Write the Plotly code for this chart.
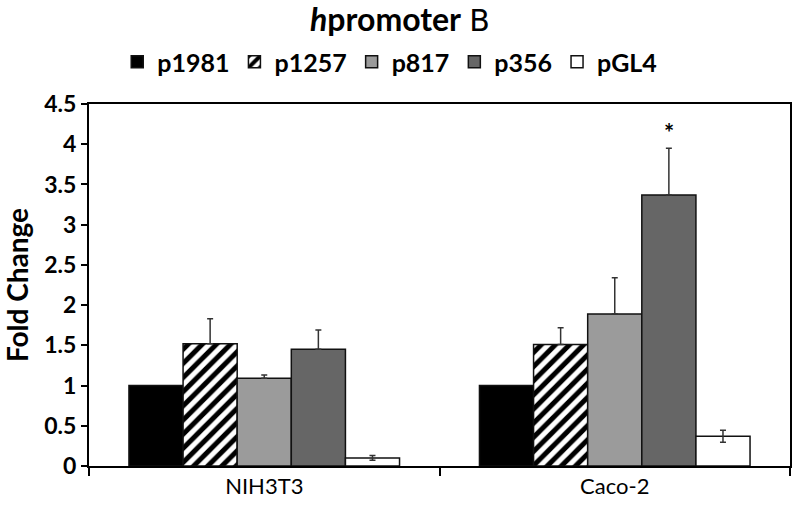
import plotly.graph_objects as go

categories = ["NIH3T3", "Caco-2"]
series_names = ["p1981", "p1257", "p817", "p356", "pGL4"]
values = {
    "p1981": [1.0, 1.0],
    "p1257": [1.52, 1.51],
    "p817": [1.09, 1.89],
    "p356": [1.45, 3.37],
    "pGL4": [0.10, 0.37],
}
err_plus = {
    "p1981": [0, 0],
    "p1257": [0.31, 0.21],
    "p817": [0.04, 0.45],
    "p356": [0.24, 0.58],
    "pGL4": [0.03, 0.075],
}
err_minus = {
    "p1981": [0, 0],
    "p1257": [0, 0],
    "p817": [0, 0],
    "p356": [0, 0],
    "pGL4": [0.03, 0.075],
}
y_ticks = [0, 0.5, 1, 1.5, 2, 2.5, 3, 3.5, 4, 4.5]
y_tick_text = ["0", "0.5", "1", "1.5", "2", "2.5", "3", "3.5", "4", "4.5"]
star_value = 4.14

colors = {
    "p1981": "#000000",
    "p1257": "#ffffff",
    "p817": "#9b9b9b",
    "p356": "#666666",
    "pGL4": "#ffffff",
}

FONT = "Lato"

fig = go.Figure()
for name in series_names:
    marker = dict(color=colors[name], line=dict(color="#111111", width=1.5))
    if name == "p1257":
        marker["pattern"] = dict(shape="/", fgcolor="#000000", bgcolor="#ffffff",
                                 fgopacity=1, size=10, solidity=0.5, fillmode="replace")
    fig.add_trace(go.Bar(
        name=name,
        x=categories,
        y=values[name],
        marker=marker,
        error_y=dict(type="data", symmetric=False,
                     array=err_plus[name], arrayminus=err_minus[name],
                     color="#333333", thickness=1.5, width=3,
                     visible=any(v > 0 for v in err_plus[name])),
    ))

fig.add_annotation(x="Caco-2", y=star_value, xref="x", yref="y",
                   text="<b>*</b>", showarrow=False, xshift=54,
                   font=dict(family=FONT, size=24, color="#000000"))

fig.update_layout(
    width=792, height=509,
    barmode="group", bargap=0.228, bargroupgap=0,
    plot_bgcolor="white", paper_bgcolor="white",
    margin=dict(l=89, r=2, t=104, b=43, autoexpand=False),
    title=dict(text="<b><i>h</i>promoter</b> <span style='font-size:30px;font-family:DejaVu Sans'>B</span>",
               x=0.505, xanchor="center", xref="container",
               y=0.962, yanchor="middle", yref="container",
               font=dict(family=FONT, size=32, color="#000000")),
    legend=dict(orientation="h", x=0.429, xanchor="center", y=1.116, yanchor="middle",
                font=dict(family=FONT, size=25, color="#000000", weight="bold"),
                itemwidth=30, tracegroupgap=0, traceorder="normal"),
    font=dict(family=FONT, color="#000000"),
)
fig.update_xaxes(
    showline=True, linecolor="#000000", linewidth=2, mirror=True,
    ticks="outside", tickson="boundaries", ticklen=8, tickwidth=1.5, tickcolor="#000000",
    tickfont=dict(family=FONT, size=22, color="#000000"),
    showgrid=False, automargin=False,
)
fig.update_yaxes(
    range=[0, 4.5], tickvals=y_ticks, ticktext=y_tick_text,
    showline=True, linecolor="#000000", linewidth=2, mirror=True,
    ticks="outside", ticklen=6, tickwidth=1.5, tickcolor="#000000",
    tickfont=dict(family=FONT, size=23, color="#000000", weight="bold"),
    showgrid=False, zeroline=False, automargin=False,
    title=dict(text="<b>Fold Change</b>", font=dict(family=FONT, size=28, color="#000000"), standoff=14),
)

fig.write_html("out.html", config={"displayModeBar": False},
               post_script="document.body.style.margin='0';document.body.style.overflow='hidden';")
